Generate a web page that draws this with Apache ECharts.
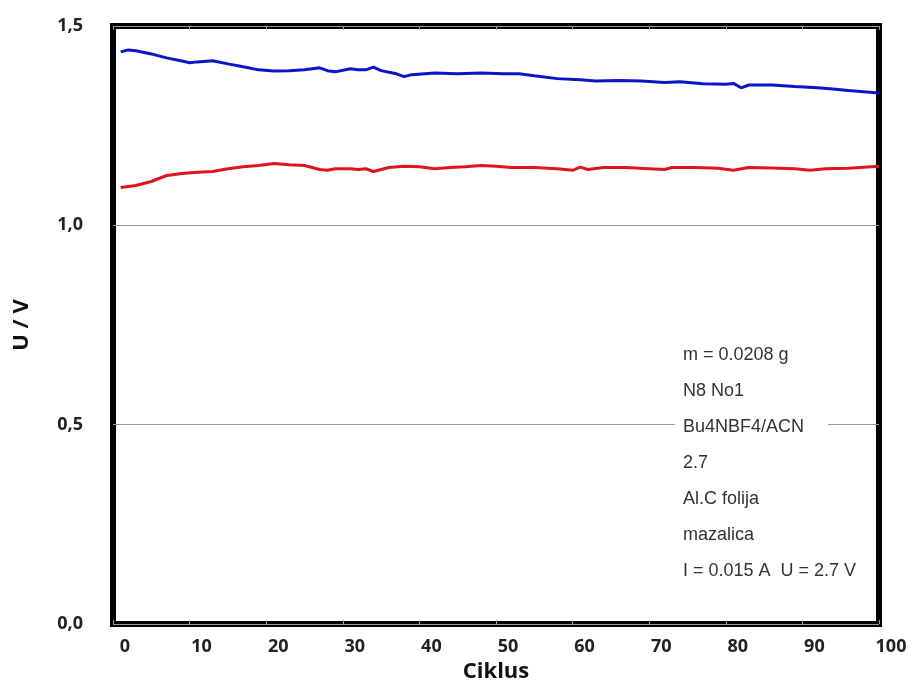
<!DOCTYPE html>
<html>
<head>
<meta charset="utf-8">
<script src="https://cdn.jsdelivr.net/npm/echarts@6/dist/echarts.min.js"></script>
<style>
  html, body { margin: 0; padding: 0; background: #fff; }
  #chart { width: 917px; height: 688px; }
</style>
</head>
<body>
<div id="chart"></div>
<script>
  // cycle numbers and measured voltages
  var blueCycles = [1, 2, 3, 5, 7, 9, 10, 11, 13, 15, 17, 19, 21, 23, 25, 27, 28, 29, 31, 32, 33, 34, 35, 37, 38, 39, 42, 45, 48, 51, 53, 55, 58, 61, 63, 66, 69, 72, 74, 77, 80, 81, 82, 83, 86, 89, 92, 94, 96, 100];
  var blueValues = [1.435, 1.44, 1.438, 1.43, 1.42, 1.412, 1.408, 1.41, 1.413, 1.405, 1.398, 1.39, 1.387, 1.388, 1.39, 1.395, 1.388, 1.385, 1.393, 1.39, 1.39, 1.397, 1.388, 1.38, 1.373, 1.378, 1.382, 1.38, 1.382, 1.38, 1.38, 1.375, 1.368, 1.365, 1.362, 1.363, 1.362, 1.358, 1.36, 1.355, 1.354, 1.356, 1.345, 1.352, 1.352, 1.348, 1.345, 1.342, 1.338, 1.332];

  var redCycles = [1, 3, 5, 7, 9, 11, 13, 15, 17, 19, 21, 23, 25, 27, 28, 29, 31, 32, 33, 34, 36, 38, 40, 42, 44, 46, 48, 50, 52, 55, 58, 60, 61, 62, 64, 67, 70, 72, 73, 76, 79, 81, 83, 86, 89, 91, 93, 96, 100];
  var redValues = [1.095, 1.1, 1.11, 1.125, 1.13, 1.133, 1.135, 1.142, 1.147, 1.15, 1.155, 1.152, 1.15, 1.14, 1.138, 1.142, 1.142, 1.14, 1.142, 1.135, 1.145, 1.148, 1.147, 1.142, 1.145, 1.147, 1.15, 1.148, 1.145, 1.145, 1.142, 1.138, 1.146, 1.14, 1.145, 1.145, 1.142, 1.14, 1.145, 1.145, 1.143, 1.138, 1.145, 1.144, 1.142, 1.138, 1.142, 1.143, 1.148];

  var noteLines = ['m = 0.0208 g', 'N8 No1', 'Bu4NBF4/ACN', '2.7', 'Al.C folija', 'mazalica', 'I = 0.015 A  U = 2.7 V'];

  function pairs(xs, ys) {
    return xs.map(function (x, i) { return [x, ys[i]]; });
  }

  var labelFont = { fontFamily: 'Open Sans', fontWeight: 'bold', fontSize: 18, color: '#222' };

  var notes = noteLines.map(function (t, i) {
    return {
      type: 'text',
      left: 675,
      top: 345 + i * 36,
      z: 100,
      style: {
        text: t,
        font: '18px "Liberation Sans"',
        fill: '#333',
        backgroundColor: '#fff',
        padding: [1, i === 2 ? 24 : 2, 1, 8]
      }
    };
  });

  var chart = echarts.init(document.getElementById('chart'));
  chart.setOption({
    animation: false,
    backgroundColor: '#fff',
    grid: {
      left: 113, right: 38, top: 26, bottom: 60,
      show: true, borderColor: '#000', borderWidth: 6, backgroundColor: 'transparent'
    },
    xAxis: [{
      type: 'value', min: 0, max: 100, interval: 10,
      name: 'Ciklus', nameLocation: 'middle', nameGap: 37,
      nameTextStyle: { fontFamily: 'Open Sans', fontWeight: 'bold', fontSize: 22, color: '#111' },
      axisLine: { show: false },
      axisTick: { show: true, inside: true, length: 4, lineStyle: { color: '#999' } },
      axisLabel: Object.assign({ margin: 14, padding: [0, 0, 0, 24] }, labelFont),
      splitLine: { show: false }
    }, {
      type: 'value', min: 0, max: 100, interval: 10, position: 'top',
      axisLine: { show: false },
      axisTick: { show: true, inside: true, length: 4, lineStyle: { color: '#999' } },
      axisLabel: { show: false },
      splitLine: { show: false }
    }],
    yAxis: {
      type: 'value', min: 0, max: 1.5, interval: 0.5,
      name: 'U / V', nameLocation: 'middle', nameGap: 80,
      nameTextStyle: { fontFamily: 'Open Sans', fontWeight: 'bold', fontSize: 22, color: '#111' },
      axisLine: { show: false },
      axisTick: { show: false },
      axisLabel: Object.assign({
        margin: 30,
        formatter: function (v) { return v.toFixed(1).replace('.', ','); }
      }, labelFont),
      splitLine: { show: true, lineStyle: { color: '#999', width: 1 } }
    },
    series: [
      {
        type: 'line', data: pairs(blueCycles, blueValues), symbol: 'none',
        lineStyle: { color: '#0a14c8', width: 3 }, z: 3
      },
      {
        type: 'line', data: pairs(redCycles, redValues), symbol: 'none',
        lineStyle: { color: '#e0141e', width: 3 }, z: 3
      }
    ],
    graphic: notes
  });
</script>
</body>
</html>
